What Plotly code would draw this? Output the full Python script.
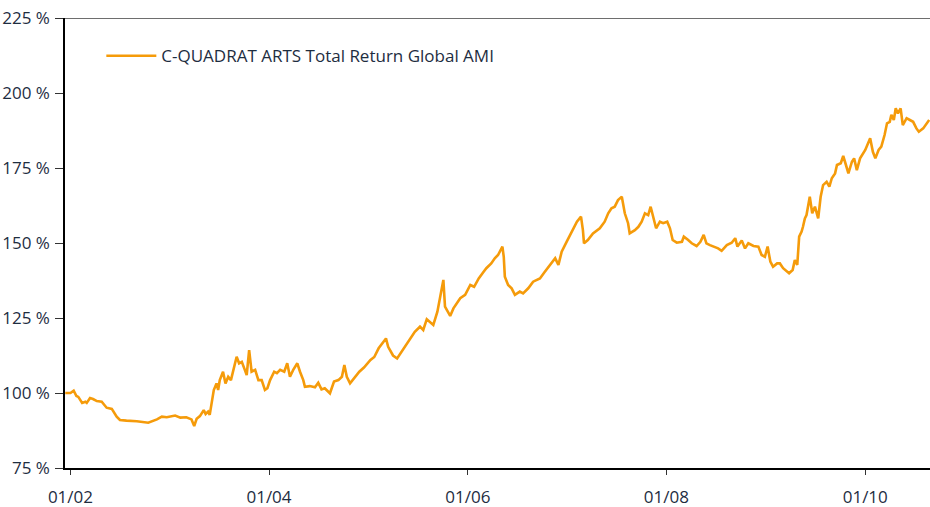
import plotly.graph_objects as go

series_name = "C-QUADRAT ARTS Total Return Global AMI"

dates = [
    "2001-12-13", "2002-01-01", "2002-01-13", "2002-01-23", "2002-01-30", "2002-02-13", "2002-02-25",
    "2002-03-02", "2002-03-14", "2002-03-25", "2002-04-08", "2002-04-26", "2002-05-14", "2002-06-02",
    "2002-06-20", "2002-07-02", "2002-07-26", "2002-09-02", "2002-10-14", "2002-11-15", "2002-12-03",
    "2002-12-21", "2003-01-21", "2003-02-09", "2003-03-03", "2003-03-22", "2003-04-01", "2003-04-10",
    "2003-04-22", "2003-05-06", "2003-05-13", "2003-05-22", "2003-05-28", "2003-06-04", "2003-06-12",
    "2003-06-22", "2003-06-28", "2003-07-04", "2003-07-16", "2003-07-25", "2003-08-04", "2003-08-14",
    "2003-08-22", "2003-09-04", "2003-09-13", "2003-09-23", "2003-10-02", "2003-10-11", "2003-10-20",
    "2003-10-29", "2003-11-11", "2003-11-23", "2003-12-05", "2003-12-17", "2003-12-26", "2004-01-05",
    "2004-01-20", "2004-01-30", "2004-02-11", "2004-02-26", "2004-03-08", "2004-03-18", "2004-03-30",
    "2004-04-14", "2004-04-24", "2004-05-06", "2004-05-12", "2004-05-30", "2004-06-18", "2004-06-30",
    "2004-07-12", "2004-07-24", "2004-08-12", "2004-08-27", "2004-09-12", "2004-09-25", "2004-10-04",
    "2004-10-13", "2004-10-25", "2004-11-09", "2004-11-28", "2004-12-15", "2005-01-08", "2005-01-22",
    "2005-02-07", "2005-02-25", "2005-03-06", "2005-03-14", "2005-04-01", "2005-04-16", "2005-05-08",
    "2005-06-02", "2005-06-20", "2005-07-09", "2005-07-21", "2005-08-03", "2005-08-15", "2005-08-27",
    "2005-09-11", "2005-09-21", "2005-10-03", "2005-10-09", "2005-10-28", "2005-11-09", "2005-12-04",
    "2005-12-22", "2006-01-10", "2006-01-24", "2006-02-10", "2006-02-28", "2006-03-10", "2006-03-28",
    "2006-04-10", "2006-04-22", "2006-05-08", "2006-05-13", "2006-05-17", "2006-05-29", "2006-06-11",
    "2006-06-23", "2006-07-11", "2006-07-23", "2006-08-11", "2006-08-29", "2006-09-23", "2006-10-11",
    "2006-10-29", "2006-11-18", "2006-11-30", "2006-12-12", "2006-12-30", "2007-01-18", "2007-02-06",
    "2007-02-21", "2007-02-28", "2007-03-04", "2007-03-18", "2007-04-06", "2007-05-01", "2007-05-19",
    "2007-06-01", "2007-06-13", "2007-06-25", "2007-07-07", "2007-07-21", "2007-08-01", "2007-08-13",
    "2007-08-19", "2007-09-07", "2007-09-20", "2007-10-02", "2007-10-14", "2007-10-26", "2007-11-04",
    "2007-11-14", "2007-11-24", "2007-12-08", "2007-12-20", "2008-01-04", "2008-01-14", "2008-01-24",
    "2008-02-08", "2008-02-27", "2008-03-05", "2008-03-21", "2008-04-03", "2008-04-21", "2008-05-05",
    "2008-05-17", "2008-05-27", "2008-06-09", "2008-06-27", "2008-07-09", "2008-07-22", "2008-08-10",
    "2008-08-28", "2008-09-10", "2008-09-18", "2008-10-04", "2008-10-16", "2008-10-28", "2008-11-16",
    "2008-12-04", "2008-12-16", "2008-12-28", "2009-01-07", "2009-01-17", "2009-01-27", "2009-02-11",
    "2009-02-21", "2009-03-05", "2009-03-27", "2009-04-09", "2009-04-17", "2009-04-26", "2009-05-03",
    "2009-05-12", "2009-05-17", "2009-05-24", "2009-05-30", "2009-06-05", "2009-06-11", "2009-06-20",
    "2009-06-30", "2009-07-12", "2009-07-21", "2009-07-30", "2009-08-12", "2009-08-22", "2009-08-31",
    "2009-09-12", "2009-09-19", "2009-10-03", "2009-10-12", "2009-10-22", "2009-10-31", "2009-11-13",
    "2009-11-21", "2009-12-01", "2009-12-13", "2010-01-01", "2010-01-13", "2010-01-19", "2010-01-29",
    "2010-02-07", "2010-02-19", "2010-03-01", "2010-03-13", "2010-03-22", "2010-04-01", "2010-04-07",
    "2010-04-16", "2010-04-23", "2010-05-01", "2010-05-11", "2010-05-19", "2010-06-02", "2010-06-14",
    "2010-06-26", "2010-07-08", "2010-07-17", "2010-08-02", "2010-08-14", "2010-08-24",
]

values = [
    100.0, 100.0, 100.8, 99.0, 98.7, 96.7, 97.1,
    96.7, 98.3, 98.0, 97.3, 97.1, 95.1, 94.7,
    92.1, 91.0, 90.8, 90.6, 90.1, 91.2, 92.1,
    91.9, 92.5, 91.8, 91.9, 91.2, 89.0, 91.4,
    92.3, 94.3, 93.0, 93.8, 92.7, 96.6, 101.0,
    103.2, 101.0, 104.3, 107.1, 103.2, 105.4, 104.3,
    107.7, 112.1, 109.9, 110.4, 108.2, 106.0, 114.3,
    107.1, 107.7, 104.3, 104.3, 101.0, 101.6, 104.3,
    107.1, 106.6, 107.7, 107.1, 109.9, 105.4, 107.7,
    109.9, 107.1, 104.3, 102.1, 102.3, 101.9, 103.4,
    101.2, 101.6, 99.9, 103.8, 104.3, 105.4, 109.3,
    105.4, 103.2, 104.9, 107.1, 108.5, 111.0, 112.0,
    114.9, 117.1, 118.2, 115.4, 112.5, 111.5, 114.6,
    117.7, 120.4, 122.1, 121.0, 124.6, 123.8, 122.7,
    127.1, 132.1, 137.7, 128.8, 125.7, 128.2, 131.6,
    132.7, 136.0, 135.4, 138.2, 140.4, 141.6, 143.2,
    144.9, 146.0, 148.8, 145.4, 138.8, 136.0, 134.9,
    132.7, 133.8, 133.2, 134.9, 137.1, 138.2, 140.4,
    142.7, 144.9, 142.7, 147.1, 150.4, 153.8, 157.1,
    158.8, 154.3, 149.9, 151.0, 153.2, 154.9, 157.1,
    159.9, 161.6, 162.1, 164.3, 165.4, 159.9, 156.6,
    153.2, 154.3, 155.4, 157.1, 159.9, 159.3, 162.1,
    158.8, 154.9, 157.1, 156.6, 157.1, 154.9, 151.0,
    150.1, 150.4, 152.1, 151.0, 149.9, 149.0, 150.4,
    152.7, 149.9, 149.3, 148.6, 148.2, 147.4, 149.3,
    150.1, 151.6, 148.8, 150.8, 148.2, 149.9, 149.0,
    148.8, 146.0, 145.4, 148.8, 143.8, 142.1, 143.2,
    143.2, 141.6, 139.9, 141.0, 144.3, 142.7, 152.1,
    153.8, 155.4, 158.2, 159.3, 162.7, 165.4, 159.9,
    162.1, 158.2, 165.4, 169.3, 170.4, 168.8, 171.6,
    173.2, 176.0, 176.6, 179.0, 176.0, 173.2, 177.1,
    178.2, 174.3, 178.2, 181.0, 183.8, 184.9, 180.4,
    178.2, 181.0, 182.1, 186.0, 189.9, 190.4, 192.7,
    191.0, 194.9, 193.2, 194.9, 189.3, 191.6, 191.0,
    190.4, 188.2, 187.1, 188.2, 189.9, 191.0,
]

x_tick_dates = ["2002-01-01", "2004-01-01", "2006-01-01", "2008-01-01", "2010-01-01"]
x_tick_labels = ["01/02", "01/04", "01/06", "01/08", "01/10"]
y_ticks = [75, 100, 125, 150, 175, 200, 225]
y_tick_labels = ["75 %", "100 %", "125 %", "150 %", "175 %", "200 %", "225 %"]

text_color = "#1e2d3f"
line_color = "#F59B0A"

fig = go.Figure()
fig.add_trace(go.Scatter(
    x=dates, y=values, mode="lines", name=series_name,
    line=dict(color=line_color, width=2.6),
))

fig.update_layout(
    width=930, height=507,
    margin=dict(l=65, r=0, t=18, b=39),
    paper_bgcolor="white", plot_bgcolor="white",
    font=dict(family="Open Sans, Lato, sans-serif", size=17, color=text_color),
    showlegend=True,
    legend=dict(x=0.042, y=0.915, xanchor="left", yanchor="middle",
                bgcolor="rgba(0,0,0,0)", itemwidth=50,
                font=dict(size=17, color=text_color)),
    xaxis=dict(
        type="date", range=["2001-12-12", "2010-08-27"],
        tickvals=x_tick_dates, ticktext=x_tick_labels,
        showgrid=False, zeroline=False, automargin=False,
        showline=True, linecolor="black", linewidth=1.5,
        ticks="outside", ticklen=5, tickcolor="#333", tickwidth=1,
        ticklabelstandoff=8, ticklabeloverflow="allow",
    ),
    yaxis=dict(
        range=[75, 225], tickvals=y_ticks, ticktext=y_tick_labels,
        showgrid=False, zeroline=False, automargin=False,
        showline=True, linecolor="black", linewidth=1.5,
        ticks="outside", ticklen=8, tickcolor="#333", tickwidth=1,
        ticklabelstandoff=2, ticklabeloverflow="allow",
    ),
    shapes=[dict(type="line", xref="paper", yref="y", x0=0, x1=1, y0=225, y1=225,
                 line=dict(color="#6e6e6e", width=2))],
)

# remove the browser's default 8px body margin so the 930x507 figure fills the window
fig.write_html(
    "out.html",
    config={"displayModeBar": False},
    post_script="document.body.style.margin='0';document.body.style.overflow='hidden';",
)
